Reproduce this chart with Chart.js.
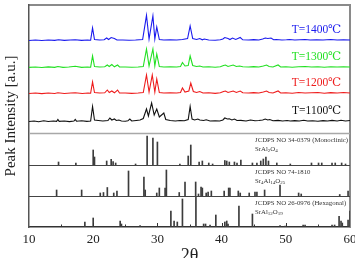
<!DOCTYPE html>
<html>
<head>
<meta charset="UTF-8">
<title>XRD patterns</title>
<script src="https://cdn.jsdelivr.net/npm/chart.js"></script>
<style>
  body { margin: 0; background: #fff; }
  #chart { display: block; }
</style>
</head>
<body>
<canvas id="chart" width="355" height="258"></canvas>
<script>
const xrd1100 = [[10,0.5],[10.8,1],[11.5,0.3],[12.3,1.2],[13,0.5],[13.8,1],[14.3,0.6],[14.5,2.5],[14.7,0.6],[15.5,1],[16.3,0.4],[17,1],[17.2,2.5],[17.4,0.8],[18.2,1.2],[19,0.6],[19.6,1],[19.9,15.5],[20.2,2],[20.8,1.5],[21.5,1],[22.3,1.5],[22.6,4],[22.9,2],[23.3,3],[23.6,1.5],[24,2],[24.4,1],[25,0.8],[25.4,1.2],[25.7,3],[26,1],[26.7,1.5],[27.3,2],[27.8,3.5],[28.3,13],[28.6,6],[29.1,19],[29.5,7],[29.9,13],[30.3,5],[31,9],[31.3,2.5],[32,1.5],[32.8,1],[33.5,1.5],[34.2,1.2],[34.8,2.5],[35.1,15.5],[35.4,3],[35.8,2],[36.3,3],[36.6,2],[37.2,1.5],[37.6,2.2],[38.2,1],[39,1.2],[39.7,1],[40.2,2],[40.5,4],[40.9,3],[41.2,3.2],[41.6,2],[42,3],[42.4,1.5],[43,1.6],[43.8,1],[44.5,2],[45.2,1.2],[45.8,1.5],[46.4,2],[46.8,3],[47.2,2],[47.5,2.5],[48,1.2],[48.8,1.6],[49.5,1],[50.2,1.5],[50.7,1],[51.4,1.4],[52.1,1],[52.8,1.8],[53.4,1],[54.2,1.2],[55,0.8],[55.8,1.4],[56.5,1],[57.2,1.6],[58,1],[58.6,1.8],[59.3,1],[60,1.5]];
const xrd1200 = [[10,0.5],[11,1],[12,0.4],[13,1],[14,0.5],[14.5,1.2],[15.5,0.5],[16.5,1],[17.2,1.2],[18.3,0.5],[19.2,1],[19.6,0.8],[19.9,12],[20.2,1.5],[21,1],[21.8,1.2],[22.2,4],[22.5,1.5],[22.9,3],[23.3,1.2],[23.8,4],[24.1,1],[25,1],[26,0.6],[27,1],[27.8,1.5],[28.3,19],[28.7,2],[29.2,19],[29.6,2],[29.9,15],[30.3,1.5],[31,1],[32,1.2],[33,1],[33.6,1.5],[33.9,6],[34.3,2],[34.9,3],[35.2,11],[35.6,2.5],[36.1,1.5],[36.6,2.5],[37.1,1],[38,1.2],[39,0.6],[39.8,1.2],[40.3,2.5],[40.6,3],[41,1.5],[41.8,3],[42.3,1.5],[42.9,3],[43.3,1.2],[44.2,1],[45,1.4],[45.8,1],[46.5,2],[47,3],[47.4,1.5],[48,1],[48.8,3],[49.2,1],[50,1.2],[51,0.8],[52,1.5],[53,1],[54,1.2],[55,1.5],[56,0.8],[57,1.4],[58,1],[59,1.5],[60,1]];
const xrd1300 = [[10,0.6],[11,1],[12,0.5],[13,1.1],[14,0.6],[14.5,1.5],[15.3,0.6],[16.2,1],[17.2,1.8],[18.2,0.6],[19.1,1],[19.6,0.8],[19.9,12],[20.2,1.5],[21,1],[21.8,1.2],[22.2,3],[22.5,1.5],[22.9,3.5],[23.3,1.2],[23.8,3],[24.1,1],[25,1],[26,0.7],[27,1],[27.8,1.5],[28.3,19],[28.7,2],[29.3,19],[29.6,2],[29.9,14],[30.3,1.5],[31,1],[32,1.2],[33,1],[33.6,1.5],[33.9,5.5],[34.3,2],[34.8,2.5],[35.1,12],[35.5,2.5],[36.1,1.5],[36.6,2],[37.1,1],[38,1.2],[39,0.7],[39.8,1.2],[40.3,2.5],[40.6,3],[41,1.5],[41.8,3],[42.3,1.5],[42.8,2],[43.3,1.2],[44.2,1],[45,1.4],[45.8,1],[46.5,2],[47,3],[47.4,1.5],[48,1],[48.8,3],[49.2,1],[50,1.2],[51,0.8],[52,1.3],[53,1.5],[54,1],[55,1.2],[56,0.8],[57,1.2],[58,1],[59,1.3],[60,1]];
const xrd1400 = [[10,0.5],[11,1],[12,0.5],[13,1],[14,0.6],[14.6,1.2],[15.5,0.6],[16.4,1],[17.2,1.2],[18.2,0.6],[19.1,1],[19.6,0.8],[19.9,13],[20.2,1.5],[21,1],[21.7,1.2],[22.1,3],[22.4,1.5],[22.8,3.5],[23.3,2.5],[23.7,1],[24.6,1],[25.6,0.7],[26.6,1],[27.7,1.5],[28.3,25.7],[28.7,2],[29.3,25],[29.6,2],[29.9,14],[30.3,1.5],[31,1],[32,1.2],[33,1],[33.9,1.5],[34.7,2.5],[35.1,15],[35.5,2.5],[36.1,1.5],[36.6,2.5],[37,1.2],[37.3,2],[38,1],[39,0.8],[39.8,1.2],[40.2,2],[40.5,3.5],[41,2.5],[41.3,1.5],[41.7,3],[42.2,1.5],[42.9,3.5],[43.3,1.2],[44.2,1],[45,1.4],[45.8,1],[46.4,2],[46.8,3],[47.2,2.5],[47.7,3],[48.1,1.2],[48.5,1.5],[49.4,1],[50.1,1.2],[50.6,1.5],[51.4,1],[52.2,1.2],[53,1.5],[53.8,1],[54.8,1.2],[55.8,1],[57,1.5],[58,1],[59,1.2],[60,1]];
const sampleLabels = ['T=1100\u2103', 'T=1200\u2103', 'T=1300\u2103', 'T=1400\u2103'];

// reference cards: peak positions and relative heights
const mono2t = [14.6, 17.3, 20.0, 20.2, 22.1, 22.8, 23.1, 23.5, 26.6, 28.4, 29.3, 30.0, 33.5, 34.8, 35.2, 36.5, 37.0, 38.0, 38.6, 40.5, 40.8, 41.2, 42.0, 42.4, 43.0, 44.8, 45.5, 46.1, 46.5, 46.9, 47.3, 48.6, 50.7, 54.0, 55.1, 55.6, 57.2, 57.7, 58.7, 59.3];
const monoI = [3, 2, 15, 8, 4, 5.7, 3.5, 2, 1, 29, 27, 23, 1, 9, 20, 3, 4, 2, 1, 4.5, 4, 3, 3, 2, 5, 2, 2, 4, 6, 8, 4, 2, 1, 2, 2, 2, 2, 2, 2, 1];
const sr4_2t = [14.3, 18.2, 21.1, 21.6, 22.2, 23.2, 23.7, 25.5, 27.9, 28.1, 29.9, 30.3, 31.2, 31.4, 33.4, 34.3, 35.96, 36.4, 36.8, 37.0, 37.6, 37.9, 38.4, 40.4, 41.1, 41.3, 42.6, 42.9, 44.3, 45.2, 45.5, 46.7, 49.1, 52.0, 52.4, 58.4, 59.7];
const sr4I = [6, 6, 3, 3.5, 8.5, 3, 5, 25, 19, 6, 3, 8, 8, 26, 3.5, 14, 14, 2, 9, 8, 3, 4, 5, 5, 8, 8, 5, 3, 3, 4, 4, 6, 11, 3, 2, 1.5, 5];
const hex2t = [18.7, 20.0, 24.2, 24.4, 27.3, 32.1, 32.6, 33.1, 33.9, 36.0, 37.2, 37.5, 38.2, 39.1, 40.5, 40.8, 41.0, 42.7, 44.8, 49.1, 49.9, 52.7, 53.0, 57.2, 57.6, 58.3, 58.6, 58.8, 59.7, 60.0];
const hexI = [5, 9, 6, 3, 1.5, 16, 6, 5, 28, 30, 3, 3, 2, 12, 5, 6, 3, 21, 13, 1.5, 1, 2, 2, 2, 2, 10.7, 6, 4, 7, 16];

const xTicks = [10, 20, 30, 40, 50, 60];

// layout: vertical offsets of each trace / card panel
const serif = '"Liberation Serif", "DejaVu Serif", serif';
const sampleColors = ['#111111', '#ee1c1c', '#22e022', '#1a1aee'];
const sampleOffsets = [105, 133, 159, 186];
const panelTops = [94, 62, 31];

const datasets = [xrd1100, xrd1200, xrd1300, xrd1400].map((p, i) => ({
  type: 'line',
  data: p.map(([t, v]) => ({ x: t, y: v + sampleOffsets[i] })),
  borderColor: sampleColors[i],
  borderWidth: 1.1,
  pointRadius: 0,
  tension: 0
}));

function sticks(pos, inten, base) {
  return {
    type: 'bar',
    data: pos.map((t, i) => ({ x: t, y: [base, base + inten[i]] })),
    backgroundColor: '#3c3c3c',
    barThickness: 1,
    grouped: false,
    borderWidth: 0
  };
}
datasets.push(sticks(mono2t, monoI, 62), sticks(sr4_2t, sr4I, 31), sticks(hex2t, hexI, 0));

const cards = [
  { title: 'JCDPS NO 34-0379 (Monoclinic)', formula: [['SrAl'], ['2', 1], ['O'], ['4', 1]], top: 94 },
  { title: 'JCDPS NO 74-1810', formula: [['Sr'], ['4', 1], ['Al'], ['14', 1], ['O'], ['25', 1]], top: 62 },
  { title: 'JCDPS NO 26-0976 (Hexagonal)', formula: [['SrAl'], ['12', 1], ['O'], ['19', 1]], top: 31 }
];

const extras = {
  id: 'extras',
  afterDatasetsDraw(chart) {
    const { ctx, chartArea: a, scales: { x, y } } = chart;
    ctx.save();
    // panel separators
    panelTops.forEach((v, i) => {
      ctx.strokeStyle = i === 0 ? '#a8a8a8' : '#444';
      ctx.lineWidth = i === 0 ? 1.3 : 1;
      const py = Math.round(y.getPixelForValue(v)) + 0.5;
      ctx.beginPath(); ctx.moveTo(a.left, py); ctx.lineTo(a.right, py); ctx.stroke();
    });
    // inward ticks
    ctx.strokeStyle = '#333'; ctx.lineWidth = 1;
    for (let t = 15; t < 60; t += 5) {
      const px = Math.round(x.getPixelForValue(t)) + 0.5;
      const len = t % 10 === 0 ? 4 : 2.5;
      ctx.beginPath(); ctx.moveTo(px, a.bottom); ctx.lineTo(px, a.bottom - len); ctx.stroke();
    }
    // sample labels
    ctx.font = '11.5px ' + serif;
    ctx.textAlign = 'right'; ctx.textBaseline = 'middle';
    sampleLabels.forEach((s, i) => {
      ctx.fillStyle = sampleColors[i];
      ctx.fillText(s, a.right - 9, y.getPixelForValue(sampleOffsets[i] + 11));
    });
    // card labels
    ctx.fillStyle = '#333'; ctx.textAlign = 'left';
    const lx = x.getPixelForValue(45.2);
    cards.forEach(c => {
      const top = y.getPixelForValue(c.top);
      ctx.font = '6.8px ' + serif;
      ctx.fillText(c.title, lx, top + 7.5);
      let cx = lx;
      c.formula.forEach(([txt, sub]) => {
        ctx.font = (sub ? '5px ' : '6.8px ') + serif;
        ctx.fillText(txt, cx, top + 16 + (sub ? 2 : 0));
        cx += ctx.measureText(txt).width;
      });
    });
    ctx.restore();
  }
};

new Chart(document.getElementById('chart'), {
  type: 'line',
  data: { datasets },
  options: {
    responsive: false,
    animation: false,
    devicePixelRatio: 1,
    layout: { padding: 0 },
    plugins: { legend: { display: false }, tooltip: { enabled: false } },
    scales: {
      x: {
        type: 'linear', min: 10, max: 60, offset: false,
        afterBuildTicks: s => { s.ticks = xTicks.map(v => ({ value: v })); },
        ticks: { color: '#222', font: { family: serif, size: 13 }, padding: 5, maxRotation: 0 },
        grid: { display: false, drawTicks: false },
        border: { color: '#333', width: 1.5 },
        title: { display: true, text: '2\u03b8', color: '#222', font: { family: serif, size: 18 }, padding: { top: 0, bottom: -9 } },
        afterFit: s => { s.height = 31; s.paddingLeft = 0; s.paddingRight = 0; }
      },
      x2: {
        type: 'linear', position: 'top', min: 10, max: 60,
        ticks: { display: false }, grid: { display: false, drawTicks: false },
        border: { color: '#8a8a8a', width: 2 },
        afterFit: s => { s.height = 5; }
      },
      y: {
        min: 0, max: 222,
        ticks: { display: false }, grid: { display: false, drawTicks: false },
        border: { color: '#555', width: 1.5 },
        title: { display: true, text: 'Peak Intensity [a.u.]', color: '#222', font: { family: serif, size: 15 }, padding: { top: 2, bottom: 0 } },
        afterFit: s => { s.width = 29; s.paddingTop = 0; s.paddingBottom = 0; }
      },
      y2: {
        position: 'right', min: 0, max: 222,
        ticks: { display: false }, grid: { display: false, drawTicks: false },
        border: { color: '#8a8a8a', width: 2 },
        afterFit: s => { s.width = 5; }
      }
    }
  },
  plugins: [extras]
});
</script>
</body>
</html>
